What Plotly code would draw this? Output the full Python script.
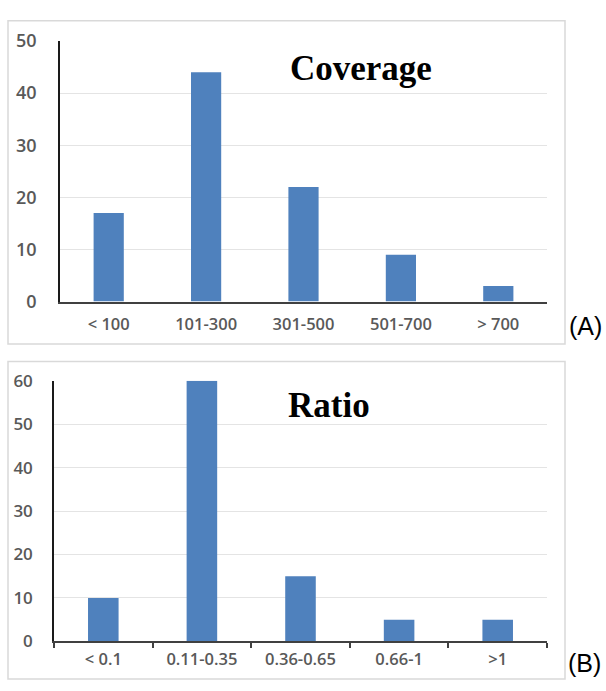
import plotly.graph_objects as go

W, H = 606, 691

cov_categories = ["< 100", "101-300", "301-500", "501-700", "> 700"]
cov_values = [17, 44, 22, 9, 3]

ratio_categories = ["< 0.1", "0.11-0.35", "0.36-0.65", "0.66-1", ">1"]
ratio_values = [10, 60, 15, 5, 5]

cov_yticks = [0, 10, 20, 30, 40, 50]
ratio_yticks = [0, 10, 20, 30, 40, 50, 60]

BAR = "#4f81bd"
XTICKFONT = dict(family="Open Sans", size=16.5, color="#595959", weight=600)
YTICKFONT = dict(family="Open Sans", size=18, color="#595959", weight=600)


def px(x):
    return x / W


def py(y):
    return 1 - y / H


fig = go.Figure()
fig.add_trace(go.Bar(x=cov_categories, y=cov_values, marker=dict(color=BAR, line=dict(width=0)),
                     xaxis="x", yaxis="y", showlegend=False))
fig.add_trace(go.Bar(x=ratio_categories, y=ratio_values, marker=dict(color=BAR, line=dict(width=0)),
                     xaxis="x2", yaxis="y2", showlegend=False))

fig.update_layout(
    width=W, height=H,
    margin=dict(l=0, r=0, t=0, b=0),
    paper_bgcolor="white", plot_bgcolor="white",
    bargap=0.69,
    xaxis=dict(domain=[px(60), px(547)], anchor="y", type="category",
               showline=True, linecolor="#404040", linewidth=2, showgrid=False,
               ticks="", tickfont=XTICKFONT, ticklabelstandoff=7),
    yaxis=dict(domain=[py(299), py(29)], anchor="x", range=[0, 50], tickvals=cov_yticks,
               showline=True, linecolor="#1a1a1a", linewidth=1.5, showgrid=True,
               gridcolor="#e4e4e4", gridwidth=1, zeroline=False,
               ticks="", tickfont=YTICKFONT, ticklabelstandoff=18),
    xaxis2=dict(domain=[px(54), px(547)], anchor="y2", type="category",
                showline=True, linecolor="#404040", linewidth=2, showgrid=False,
                ticks="outside", tickson="boundaries", ticklen=5, tickwidth=1.5, tickcolor="#404040",
                tickfont=XTICKFONT, ticklabelstandoff=2),
    yaxis2=dict(domain=[py(651), py(381)], anchor="x2", range=[0, 60], tickvals=ratio_yticks,
                showline=True, linecolor="#1a1a1a", linewidth=1.5, showgrid=True,
                gridcolor="#e4e4e4", gridwidth=1, zeroline=False,
                ticks="", tickfont=dict(family="Open Sans", size=17, color="#595959", weight=600),
                ticklabelstandoff=16),
    shapes=[
        dict(type="rect", xref="paper", yref="paper", x0=px(8), x1=px(565), y0=py(343), y1=py(8),
             line=dict(color="#d9d9d9", width=1.5), layer="below"),
        dict(type="rect", xref="paper", yref="paper", x0=px(8), x1=px(565), y0=py(690), y1=py(361),
             line=dict(color="#d9d9d9", width=1.5), layer="below"),
    ],
    annotations=[
        dict(text="<b>Coverage</b>", xref="paper", yref="paper", x=px(361), y=py(58),
             xanchor="center", yanchor="middle", showarrow=False,
             font=dict(family="Liberation Serif", size=35, color="black")),
        dict(text="<b>Ratio</b>", xref="paper", yref="paper", x=px(329), y=py(407),
             xanchor="center", yanchor="middle", showarrow=False,
             font=dict(family="Liberation Serif", size=35, color="black")),
        dict(text="(A)", xref="paper", yref="paper", x=px(585), y=py(324),
             xanchor="center", yanchor="middle", showarrow=False,
             font=dict(family="Liberation Sans", size=25, color="black")),
        dict(text="(B)", xref="paper", yref="paper", x=px(584), y=py(673),
             xanchor="center", yanchor="middle", showarrow=False,
             font=dict(family="Liberation Sans", size=25, color="black")),
    ],
)

fig.write_html("out.html", config={"displayModeBar": False},
               post_script="document.body.style.margin='0';document.body.style.overflow='hidden';")
